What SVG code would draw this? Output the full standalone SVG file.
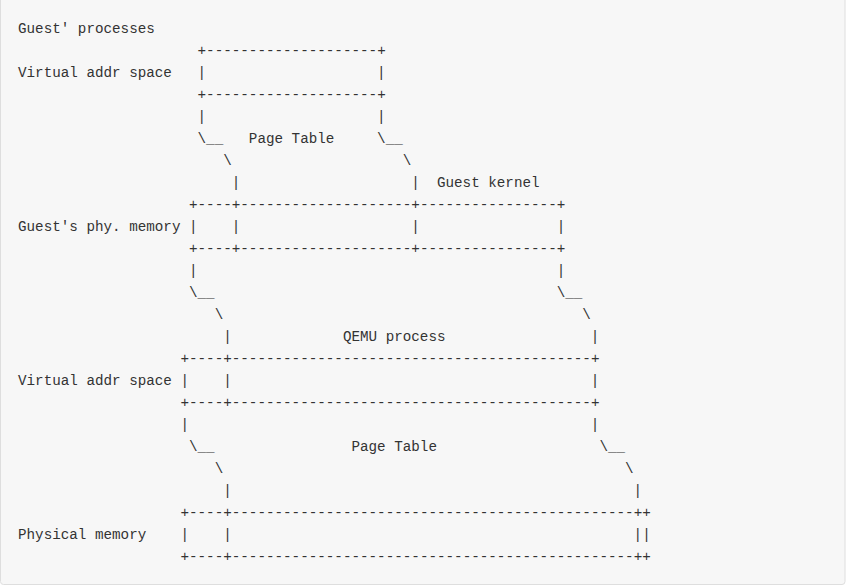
<svg xmlns="http://www.w3.org/2000/svg" width="846" height="587" viewBox="0 0 846 587">
<style>
.t { font-family: "Liberation Mono", "DejaVu Sans Mono", monospace; font-size: 14.25px; fill: #333333; }
</style>
<rect x="0" y="0" width="846" height="587" fill="#ffffff"/>
<rect id="codeblock" x="0.5" y="-4" width="844.5" height="588.5" rx="3" fill="#f7f7f7" stroke="#dedede" stroke-width="1"/>
<g id="guest-processes" class="t">
<text x="18" y="32.5">Guest' processes</text>
<text x="197.55" y="54.5">+--------------------+</text>
<text x="18" y="76.5">Virtual addr space</text>
<text x="197.55" y="76.5">|</text>
<text x="377.1" y="76.5">|</text>
<text x="197.55" y="98.5">+--------------------+</text>
<text x="197.55" y="120.5">|</text>
<text x="377.1" y="120.5">|</text>
<text x="197.55" y="142.5">\__</text>
<text x="248.85" y="142.5">Page Table</text>
<text x="377.1" y="142.5">\__</text>
<text x="223.2" y="164.5">\</text>
<text x="402.75" y="164.5">\</text>
<text x="231.75" y="186.5">|</text>
<text x="411.3" y="186.5">|</text>
<text x="436.95" y="186.5">Guest kernel</text>
</g>
<g id="guest-phys-memory" class="t">
<text x="189" y="208.5">+----+--------------------+----------------+</text>
<text x="18" y="230.5">Guest's phy. memory</text>
<text x="189" y="230.5">|</text>
<text x="231.75" y="230.5">|</text>
<text x="411.3" y="230.5">|</text>
<text x="556.65" y="230.5">|</text>
<text x="189" y="252.5">+----+--------------------+----------------+</text>
<text x="189" y="274.5">|</text>
<text x="556.65" y="274.5">|</text>
<text x="189" y="296.5">\__</text>
<text x="556.65" y="296.5">\__</text>
<text x="214.65" y="318.5">\</text>
<text x="582.3" y="318.5">\</text>
<text x="223.2" y="340.5">|</text>
<text x="342.9" y="340.5">QEMU process</text>
<text x="590.85" y="340.5">|</text>
</g>
<g id="qemu-virtual" class="t">
<text x="180.45" y="362.5">+----+------------------------------------------+</text>
<text x="18" y="384.5">Virtual addr space</text>
<text x="180.45" y="384.5">|</text>
<text x="223.2" y="384.5">|</text>
<text x="590.85" y="384.5">|</text>
<text x="180.45" y="406.5">+----+------------------------------------------+</text>
<text x="180.45" y="428.5">|</text>
<text x="590.85" y="428.5">|</text>
<text x="189" y="450.5">\__</text>
<text x="351.45" y="450.5">Page Table</text>
<text x="599.4" y="450.5">\__</text>
<text x="214.65" y="472.5">\</text>
<text x="625.05" y="472.5">\</text>
<text x="223.2" y="494.5">|</text>
<text x="633.6" y="494.5">|</text>
</g>
<g id="physical-memory" class="t">
<text x="180.45" y="516.5">+----+-----------------------------------------------++</text>
<text x="18" y="538.5">Physical memory</text>
<text x="180.45" y="538.5">|</text>
<text x="223.2" y="538.5">|</text>
<text x="633.6" y="538.5">||</text>
<text x="180.45" y="560.5">+----+-----------------------------------------------++</text>
</g>
</svg>
